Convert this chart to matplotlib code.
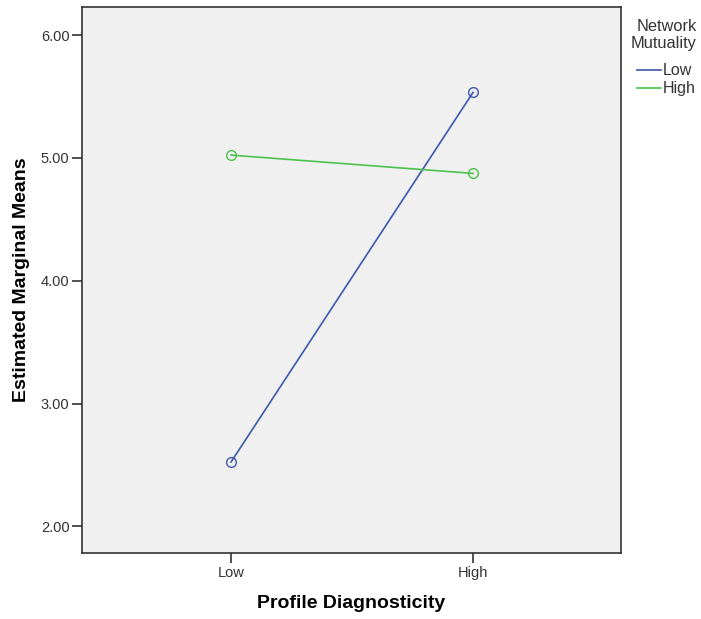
import matplotlib.pyplot as plt
from matplotlib.lines import Line2D

plt.rcParams['font.family'] = ['Liberation Sans', 'DejaVu Sans']

# data
diagnosticity = ['Low', 'High']
mutuality_levels = ['Low', 'High']
means_low = [2.525, 5.533]
means_high = [5.023, 4.874]
y_ticks = [2.0, 3.0, 4.0, 5.0, 6.0]

BLUE = '#3e58ac'
GREEN = '#4cc24c'

fig = plt.figure(figsize=(7.01, 6.19), dpi=100)
ax = fig.add_axes([0.117, 0.1066, 0.769, 0.882])
ax.set_facecolor('#f0f0f0')

x = list(range(len(diagnosticity)))
ax.plot(x, means_low, color=BLUE, lw=1.2, marker='o', ms=7,
        mfc='none', mec=BLUE, mew=1.0)
ax.plot(x, means_high, color=GREEN, lw=1.2, marker='o', ms=7,
        mfc='none', mec=GREEN, mew=1.0)

ax.set_xlim(-0.616, 1.612)
ax.set_ylim(1.784, 6.228)
ax.set_xticks(x)
ax.set_xticklabels(diagnosticity)
ax.set_yticks(y_ticks)
ax.set_yticklabels(['%.2f' % v for v in y_ticks])

for s in ax.spines.values():
    s.set_color('#333333')
    s.set_linewidth(1.2)
ax.tick_params(axis='both', direction='out', length=7, width=1.2,
               color='#333333', labelsize=10.5, labelcolor='#333333', pad=2)

ax.set_xlabel('Profile Diagnosticity', fontsize=14, fontweight='bold', labelpad=11)
ax.set_ylabel('Estimated Marginal Means', fontsize=14, fontweight='bold', labelpad=8)

# legend outside the plot, top right, right aligned like SPSS
fig.text(697 / 701, 1 - 19 / 619, 'Network\nMutuality', ha='right', va='top',
         fontsize=11.8, color='#333333', linespacing=1.15)
handles = [Line2D([0], [0], color=BLUE, lw=1.2),
           Line2D([0], [0], color=GREEN, lw=1.2)]
fig.legend(handles, mutuality_levels, loc='upper right',
           bbox_to_anchor=(699 / 701, 1 - 60 / 619),
           frameon=False, fontsize=11.5, handlelength=1.45, handletextpad=0.15,
           labelspacing=0.2, borderaxespad=0, borderpad=0.2,
           labelcolor='#333333')

fig.savefig('out.png', dpi=100)
